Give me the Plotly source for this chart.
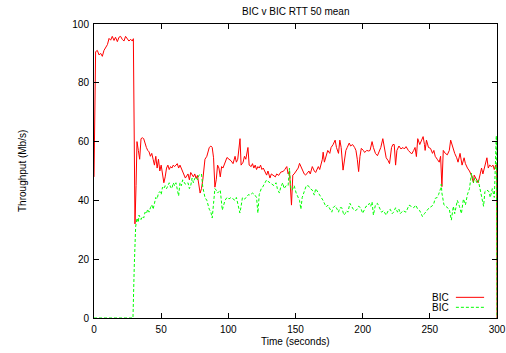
import plotly.graph_objects as go

# ---- data ----
red_t = [0, 1.2, 2.5, 3.7, 5, 6.2, 7.4, 8.7, 10, 11.2, 12.4, 13.6, 14.9, 16, 17.4, 18.6, 19.8, 21, 22.3, 23.5,
         24.8, 26, 27.3, 28.5, 29.3, 30.5, 31.3, 32, 33, 34, 35, 36, 37, 38, 39, 40, 41, 42, 43, 44, 45, 46, 47,
         48, 49, 50, 51, 52, 53, 54, 55, 56, 57, 58, 59, 60, 62, 63, 64, 66, 68, 70, 71, 72, 74, 75, 76, 77, 78,
         79, 80, 81, 82.6, 84, 85.8, 87, 88, 89, 90, 91, 92, 93, 94, 95, 96, 97.5, 99, 100.5, 102, 103.5, 105,
         106, 107, 108.7, 109.5, 111, 112, 113, 114.6, 115.5, 117, 118, 119, 120, 121, 122, 123, 124, 125, 126,
         127, 128.5, 129.5, 131, 132, 133.5, 135, 136, 137.5, 139, 141, 142, 143.5, 144.5, 145.5, 147, 148, 149,
         150.5, 152, 153, 154, 155.5, 156.5, 157.5, 159, 160, 161, 162.5, 164, 165, 167, 168, 170, 170.6, 171.5,
         172.5, 174, 175.5, 176.5, 178, 179.5, 180.5, 182, 183, 184, 185.4, 186.5, 187.5, 188.5, 190, 191, 192.5,
         194, 195, 196, 197, 198, 199, 200.5, 201.5, 203, 204.5, 205.5, 207, 208, 209.5, 211, 212.5, 213.5, 215,
         216.5, 217.5, 219, 220, 221.5, 222.5, 223.5, 224.5, 225.5, 227, 228.5, 230, 231, 232.3, 234, 235, 236.5,
         238, 239, 240, 241, 242.5, 243.5, 245, 246, 246.5, 247.5, 249, 250.5, 252, 253, 254, 255.5, 257, 258,
         259, 260, 261.5, 263, 264.5, 265.5, 267, 268.5, 270, 271, 272.5, 274, 275.5, 276.5, 278, 279.5, 281,
         282.5, 283, 284.5, 286, 287.5, 288.5, 289.5, 291, 292.5, 293.5, 294.5, 296, 297, 298, 299, 299.8, 300]
red_v = [48, 90.6, 91, 89.5, 90, 89, 91, 92.3, 93, 95.1, 94.5, 95.8, 94.4, 95.5, 94, 95.5, 95.8, 94.8, 94.2, 95.8,
         94.8, 94.2, 94.8, 94.2, 95, 32, 45, 60, 57, 54, 61, 61.3, 61, 59, 58, 57, 56.5, 55, 56, 54, 52, 55, 51,
         54, 50, 52, 49, 46, 48, 51, 52, 50.5, 51.5, 51, 52, 51.5, 52.5, 51, 52, 50, 47.6, 49, 47, 49.5, 48, 49,
         47.5, 48.5, 46, 42.5, 44, 47, 54, 55, 58, 58.5, 58, 54.5, 44.5, 47, 52, 51, 48, 51.5, 51, 52.5, 54.6, 54,
         53.5, 52.5, 55, 53, 54, 61, 52, 53, 55, 54, 58, 52, 51.5, 52.5, 51, 52, 50.5, 51.5, 51, 52, 50.5, 51, 50,
         48.6, 50, 47.6, 49, 48.6, 48, 49, 48.5, 49.6, 49.9, 50.5, 51.5, 49, 50, 38.4, 48.6, 49, 50, 51, 52.6,
         51.5, 50, 49, 48.6, 49.5, 50, 49, 51.5, 50, 49.5, 51.5, 50.5, 54, 56.4, 53, 55, 57, 56, 58, 59, 60.5, 58,
         56, 60.5, 58, 50.3, 54, 57, 58, 59.5, 58.5, 59, 58, 57, 54, 49.8, 55, 57.7, 57, 56.3, 57, 56.8, 57, 60,
         58, 56, 55.2, 57, 58, 61, 57, 54.5, 53.5, 52.5, 58, 59, 59, 52, 57, 58.5, 57.5, 58, 57.5, 58.3, 57, 56.5,
         55.8, 57, 58, 54.9, 61, 59, 60, 61.7, 59, 57, 60.5, 58, 57.7, 56, 57, 55, 54, 53, 55, 44.7, 57, 56, 55.5,
         57, 60.5, 58, 56, 54.5, 53, 56, 52, 54.5, 52.5, 51, 50, 48.5, 46, 48.6, 47, 46, 49, 51, 49, 52, 54.5, 51,
         52, 51.5, 52, 50.5, 52, 52, 0]

green_t = [0, 29, 30, 31, 32, 33, 33.5, 35, 36, 37, 38, 39, 40, 41, 42, 43, 44, 45, 46, 47, 48, 49, 50, 51, 52,
           53, 54, 55, 56, 57, 58, 59, 60, 61, 62, 63, 64, 65, 66, 67, 68, 70, 71, 72, 73, 74, 75, 76, 77, 78, 80,
           81, 82.6, 84, 85.8, 87, 88, 89, 90, 91, 92, 93, 94, 95.5, 96.5, 97.5, 99, 100.5, 102, 103.5, 105, 106,
           107, 108.6, 109.5, 110.5, 112, 113.5, 115, 116, 118, 119.5, 121, 122, 123, 124.5, 125.5, 127, 128.5,
           129.5, 131, 132.5, 134, 135.5, 136.5, 138, 139, 140.5, 141.5, 143, 144.5, 145.5, 146.5, 147.5, 149,
           150.5, 152, 153, 154, 155, 156.5, 158, 159.5, 161, 162.5, 164, 165, 166.5, 168, 169, 170.5, 172, 173,
           174, 176, 177, 178, 179.5, 181, 182, 183, 184.5, 186, 187, 188, 189, 190.5, 192, 193, 194.5, 196, 197,
           198.5, 200, 201.5, 202.5, 203.5, 205, 206, 207, 208, 209.5, 211, 212.5, 214, 215.5, 217.5, 219, 220.5,
           222, 223, 224.5, 226, 227, 228, 230, 232.3, 234.5, 236, 238, 239.5, 241, 242.5, 244.5, 246, 247.5,
           249.5, 251.5, 253, 254, 255.5, 256.5, 258, 258.5, 259, 260.5, 262, 264.5, 266, 267.5, 268.5, 270.5,
           272, 273.5, 275, 276.5, 278, 279.5, 281, 282.5, 283.5, 285, 286, 287.5, 289, 290, 291, 292.5, 294, 295,
           296.5, 298, 299.5, 300]
green_v = [0, 0, 18, 31, 34, 32.5, 35, 33.5, 34.5, 34, 36, 35.5, 37, 36, 37.5, 38.5, 37, 39.5, 41, 40.5, 42.5, 43,
           42, 44.5, 44, 45, 44, 45, 46, 44.5, 44, 46, 45, 46, 43, 41.5, 46, 45, 47, 46, 45.5, 46, 44, 45, 47.6, 46,
           47.5, 48, 47, 48.5, 49, 44.5, 41, 40, 37, 36, 34, 39, 44, 43.5, 42.5, 43, 43.5, 36.7, 38, 40, 41, 40.5,
           41, 40.6, 40, 41, 39, 35.7, 38, 41, 40.5, 41, 42, 41.8, 42.5, 42, 41, 35.7, 42, 44, 44.5, 46, 47, 46.5,
           46, 45.5, 45, 46, 44, 42.5, 44.5, 46, 44, 45, 45, 51, 44, 43.5, 45, 42.5, 41, 40, 37, 41, 43, 45, 45, 44,
           43.5, 41.8, 44, 43, 41.8, 41, 40, 38.5, 37.8, 38.4, 37, 36, 37.5, 38.2, 37, 36, 37.5, 37.5, 35, 35.5,
           36.5, 36, 39, 37.5, 37, 36.5, 37, 38, 37.5, 35.6, 37, 38, 38, 39, 38, 39.5, 35, 38.5, 39, 37.5, 36, 36.5,
           35, 36.5, 37, 35.5, 36, 37.5, 36, 37, 35.5, 36.5, 36, 38.4, 38, 37.5, 38.4, 37, 36.5, 34.5, 35.5, 36.5,
           37.5, 38, 39, 40.7, 41, 42, 44, 45.5, 42.5, 38.5, 38, 37, 33.3, 38, 35.5, 40, 38, 35.5, 40.5, 38.5, 42,
           44, 49.3, 46, 47.6, 46, 47, 44, 40, 38, 43, 43.5, 43, 41, 44, 41, 62, 0]

series_names = ["BIC", "BIC"]
x_ticks = [0, 50, 100, 150, 200, 250, 300]
y_ticks = [0, 20, 40, 60, 80, 100]

FONT = "Liberation Sans, Arial, Helvetica, sans-serif"

fig = go.Figure()
fig.add_trace(go.Scatter(x=red_t, y=red_v, mode="lines", name=series_names[0],
                         line=dict(color="#ff0000", width=1), showlegend=False, hoverinfo="skip"))
fig.add_trace(go.Scatter(x=green_t, y=green_v, mode="lines", name=series_names[1],
                         line=dict(color="#00ff00", width=1, dash="3px,2px"), showlegend=False,
                         hoverinfo="skip"))

axis_common = dict(showgrid=False, zeroline=False, showline=True, linecolor="black", linewidth=1,
                   mirror="ticks", ticks="inside", ticklen=5, tickcolor="black", ticklabelstandoff=2,
                   automargin=False, tickfont=dict(family=FONT, size=10, color="black"))
fig.update_xaxes(range=[0, 300], tickvals=x_ticks, **axis_common)
fig.update_yaxes(range=[0, 100], tickvals=y_ticks, **axis_common)

# custom legend (gnuplot style: text left of sample)
leg = [(series_names[0], "#ff0000", "solid", 0.0703), (series_names[1], "#00ff00", "3px,2px", 0.0363)]
for name, col, dash, yy in leg:
    fig.add_annotation(x=0.887, y=yy, xref="paper", yref="paper", text=name, showarrow=False,
                       xanchor="right", yanchor="middle", font=dict(family=FONT, size=10, color="black"))
    fig.add_shape(type="line", xref="paper", yref="paper", x0=0.898, x1=0.968, y0=yy, y1=yy,
                  line=dict(color=col, width=1, dash=dash))

fig.add_annotation(x=0.5, y=1.041, xref="paper", yref="paper", text="BIC v BIC RTT 50 mean",
                   showarrow=False, xanchor="center", yanchor="middle",
                   font=dict(family=FONT, size=10, color="black"))
fig.add_annotation(x=0.5, y=-0.0816, xref="paper", yref="paper", text="Time (seconds)",
                   showarrow=False, xanchor="center", yanchor="middle",
                   font=dict(family=FONT, size=10, color="black"))
fig.add_annotation(x=-0.1787, y=0.5, xref="paper", yref="paper", text="Throughput (Mb/s)",
                   showarrow=False, textangle=-90, xanchor="center", yanchor="middle",
                   font=dict(family=FONT, size=10, color="black"))

fig.update_layout(width=506, height=353, margin=dict(l=94, r=9, t=24, b=35, autoexpand=False),
                  paper_bgcolor="white", plot_bgcolor="white", showlegend=False, hovermode=False)

# remove the page's default body margin so the figure sits at the window's corner
fig.write_html("out.html", config={"displayModeBar": False, "staticPlot": True},
               post_script="document.body.style.margin='0';document.body.style.overflow='hidden';")
